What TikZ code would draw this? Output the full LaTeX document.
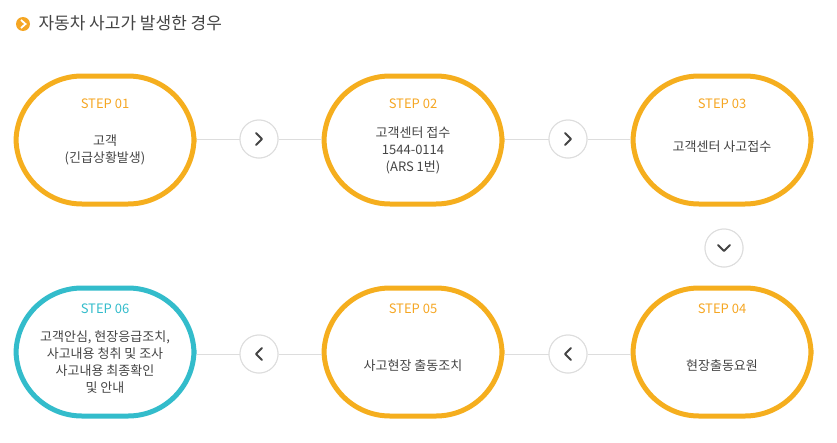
\documentclass[tikz,border=0pt]{standalone}
\usepackage{fontspec}
\setmainfont{Noto Sans CJK KR}
\usetikzlibrary{positioning}
\definecolor{steporange}{HTML}{F5AE1E}
\definecolor{stepblue}{HTML}{33BCCB}
\definecolor{labelorange}{HTML}{F5A623}
\definecolor{linegray}{HTML}{DDDDDD}
\definecolor{textgray}{HTML}{444444}
\tikzset{
  stepbox/.style={draw=steporange, line width=5pt, rounded corners=66pt,
    minimum width=178pt, minimum height=128pt, align=center},
  btn/.style={circle, draw=linegray, line width=1pt, fill=white, minimum size=38pt},
  stepnum/.style={text=labelorange, font=\fontsize{13}{15}\selectfont},
  steptext/.style={text=textgray, align=center, font=\fontsize{13}{17}\selectfont},
  link/.style={draw=linegray, line width=1pt},
  chev/.style={draw=textgray, line width=2pt, line cap=round, line join=round}
}
\begin{document}
\begin{tikzpicture}[x=1pt, y=-1pt]
    \useasboundingbox (0,0) rectangle (837,442);
    % title
    \node[circle, fill=labelorange, minimum size=14pt, inner sep=0pt] (icon) at (23,24) {};
    \draw[white, line width=1.8pt] (21,20) -- (25.5,24) -- (21,28);
    \node[anchor=west, text=textgray, font=\fontsize{17}{19}\selectfont] (title) at (35,23) {자동차 사고가 발생한 경우};

    \node[stepbox]                  (Step 1) at (105,140) {};
    \node[stepbox]                  (Step 2) at (413,140) {};
    \node[stepbox]                  (Step 3) at (722,140) {};
    \node[stepbox]                  (Step 4) at (722,352) {};
    \node[stepbox]                  (Step 5) at (413,352) {};
    \node[stepbox, draw=stepblue]   (Step 6) at (105,352) {};

    \node[btn] (Btn 1) at (259,139) {};
    \node[btn] (Btn 2) at (568,139) {};
    \node[btn] (Btn 3) at (724,248) {};
    \node[btn] (Btn 4) at (568,354) {};
    \node[btn] (Btn 5) at (259,354) {};

    \path[link] (Step 1.east |- Btn 1) -- (Btn 1) -- (Step 2.west |- Btn 1);
    \path[link] (Step 2.east |- Btn 2) -- (Btn 2) -- (Step 3.west |- Btn 2);
    \path[link] (Step 4.west |- Btn 4) -- (Btn 4) -- (Step 5.east |- Btn 4);
    \path[link] (Step 5.west |- Btn 5) -- (Btn 5) -- (Step 6.east |- Btn 5);
    \foreach \b in {1,2,4,5} {
        \node[btn] at (Btn \b) {};
    }
    \node[btn] at (Btn 3) {};

    % chevrons
    \foreach \b in {1,2} {
        \draw[chev] ([shift={(-3,-6)}]Btn \b.center) -- ([shift={(3,0)}]Btn \b.center) -- ([shift={(-3,6)}]Btn \b.center);
    }
    \foreach \b in {4,5} {
        \draw[chev] ([shift={(3,-6)}]Btn \b.center) -- ([shift={(-3,0)}]Btn \b.center) -- ([shift={(3,6)}]Btn \b.center);
    }
    \draw[chev] ([shift={(-6,-3)}]Btn 3.center) -- ([shift={(0,3)}]Btn 3.center) -- ([shift={(6,-3)}]Btn 3.center);

    % labels
    \node[stepnum] (Num 1) at (105,104) {STEP 01};
    \node[stepnum] (Num 2) at (413,104) {STEP 02};
    \node[stepnum] (Num 3) at (722,104) {STEP 03};
    \node[stepnum] (Num 4) at (722,309) {STEP 04};
    \node[stepnum] (Num 5) at (413,309) {STEP 05};
    \node[stepnum, text=stepblue] (Num 6) at (105,309) {STEP 06};

    \node[steptext] (Text 1) at (105,150) {고객\\(긴급상황발생)};
    \node[steptext] (Text 2) at (413,150) {고객센터 접수\\1544-0114\\(ARS 1번)};
    \node[steptext] (Text 3) at (722,147) {고객센터 사고접수};
    \node[steptext] (Text 4) at (722,366) {현장출동요원};
    \node[steptext] (Text 5) at (413,366) {사고현장 출동조치};
    \node[steptext] (Text 6) at (105,362) {고객안심, 현장응급조치,\\사고내용 청취 및 조사\\사고내용 최종확인\\및 안내};
\end{tikzpicture}
\end{document}
